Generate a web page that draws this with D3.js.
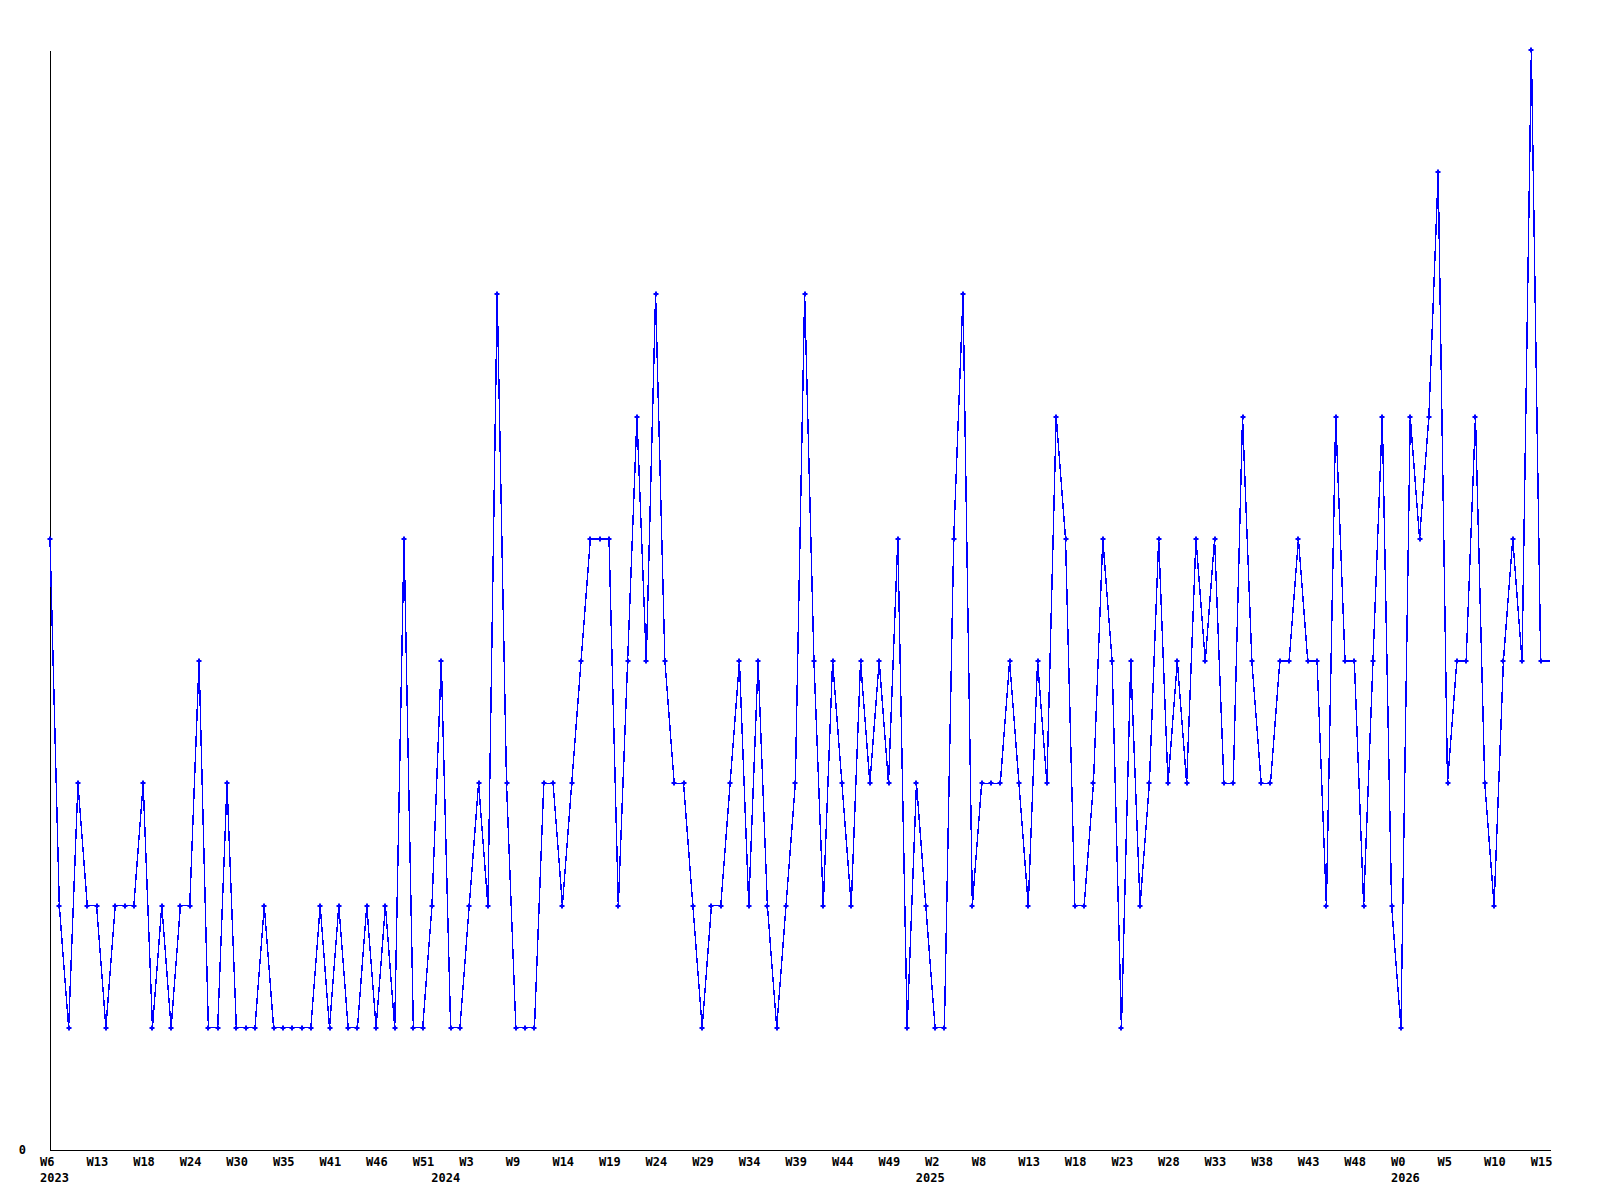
<!DOCTYPE html>
<html>
<head>
<meta charset="utf-8">
<script src="https://cdn.jsdelivr.net/npm/d3@7"></script>
<style>
  html, body { margin: 0; padding: 0; background: #ffffff; }
  svg { display: block; }
  text { font-family: "DejaVu Sans Mono", monospace; font-weight: bold; font-size: 12px; fill: #000; }
</style>
</head>
<body>
<script>
// ---- data ----
const values = [
  5,2,1,3,2,2,1,2,2,2,3,1,2,1,2,2,4,1,1,3,1,1,1,2,1,1,1,1,1,2,1,2,1,1,2,1,2,1,5,1,1,2,4,
  1,1,2,3,2,7,3,1,1,1,3,3,2,3,4,5,5,5,2,4,6,4,7,4,
  3,3,2,1,2,2,3,4,2,4,2,1,2,3,7,4,2,4,3,2,4,3,4,3,
  5,1,3,2,1,1,5,7,2,3,3,3,4,3,2,4,3,6,5,2,2,3,5,
  4,1,4,2,3,5,3,4,3,5,4,5,3,3,6,4,3,3,4,4,5,4,4,2,
  6,4,4,2,4,6,2,1,6,5,6,8,3,4,4,6,3,2,4,5,4,9,4,
  4
];
const weekLabels = ["W6","W13","W18","W24","W30","W35","W41","W46","W51","W3","W9",
  "W14","W19","W24","W29","W34","W39","W44","W49","W2","W8","W13","W18","W23","W28",
  "W33","W38","W43","W48","W0","W5","W10","W15"];
const weekLabelStep = 5;
const yearLabels = ["2023","2024","2025","2026"];
const yearStarts = [0, 42, 94, 145];
const yMax = 9;

// ---- layout ----
const W = 1600, H = 1200;
const mLeft = 50, mRight = 1550, mTop = 50, mBottom = 1150;
const FONT = '"DejaVu Sans Mono", monospace';

const svg = d3.select("body").append("svg").attr("width", W).attr("height", H);

const x = d3.scaleLinear().domain([0, values.length - 1]).range([mLeft, mRight]);
const y = d3.scaleLinear().domain([0, yMax]).range([mBottom, mTop]);

// axes
const xAxis = d3.axisBottom(x)
  .tickValues(d3.range(0, weekLabels.length * weekLabelStep, weekLabelStep))
  .tickFormat((d) => weekLabels[d / weekLabelStep])
  .tickSizeInner(0).tickSizeOuter(0);
const gx = svg.append("g").attr("transform", `translate(0,${mBottom})`).call(xAxis);
gx.select(".domain").attr("stroke", "#000").attr("shape-rendering", "crispEdges");
gx.selectAll(".tick text")
  .attr("text-anchor", "start").attr("x", -10.5).attr("y", 16).attr("dy", 0)
  .style("font-family", FONT).style("font-weight", "bold").style("font-size", "12px");

const yearAxis = d3.axisBottom(x)
  .tickValues(yearStarts)
  .tickFormat((d, i) => yearLabels[i])
  .tickSizeInner(0).tickSizeOuter(0);
const gyr = svg.append("g").attr("transform", `translate(0,${mBottom})`).call(yearAxis);
gyr.select(".domain").remove();
gyr.selectAll(".tick text")
  .attr("text-anchor", "start").attr("x", -10.5).attr("y", 32).attr("dy", 0)
  .style("font-family", FONT).style("font-weight", "bold").style("font-size", "12px");

const yAxis = d3.axisLeft(y).tickValues([0]).tickFormat(d3.format("d"))
  .tickSizeInner(0).tickSizeOuter(0).tickPadding(24);
const gy = svg.append("g").attr("transform", `translate(${mLeft},0)`).call(yAxis);
gy.select(".domain").attr("stroke", "#000").attr("shape-rendering", "crispEdges");
gy.selectAll(".tick text").attr("dy", "0.3em")
  .style("font-family", FONT).style("font-weight", "bold").style("font-size", "12px");

// line
const line = d3.line().x((d, i) => x(i)).y((d) => y(d));
svg.append("path").datum(values)
  .attr("d", line)
  .attr("fill", "none")
  .attr("stroke", "#0000ff")
  .attr("stroke-width", 1.4)
  .attr("shape-rendering", "crispEdges");

// markers (the trailing edge value has no marker)
const pts = values.slice(0, values.length - 1);
const mk = svg.append("g").attr("fill", "#0000ff");
mk.selectAll("rect.h").data(pts).join("rect").attr("class", "h")
  .attr("x", (d, i) => Math.round(x(i)) - 2.5).attr("y", (d) => Math.round(y(d)) - 1)
  .attr("width", 5).attr("height", 2);
mk.selectAll("rect.v").data(pts).join("rect").attr("class", "v")
  .attr("x", (d, i) => Math.round(x(i)) - 1).attr("y", (d) => Math.round(y(d)) - 2.5)
  .attr("width", 2).attr("height", 5);
</script>
</body>
</html>
